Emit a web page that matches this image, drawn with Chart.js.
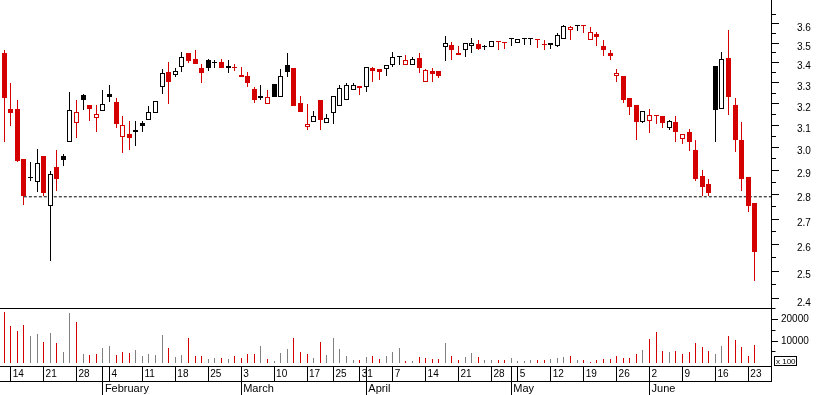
<!DOCTYPE html>
<html><head><meta charset="utf-8">
<script src="https://cdn.jsdelivr.net/npm/chart.js@4/dist/chart.umd.min.js"></script>
<style>
html,body{margin:0;padding:0;background:#fff;}
#wrap{position:relative;width:817px;height:395px;overflow:hidden;background:#fff}
canvas{position:absolute;left:0}
#cp{top:0}
#cv{top:308px}
</style></head><body>
<div id="wrap"><canvas id="cp" width="817" height="308"></canvas><canvas id="cv" width="817" height="87"></canvas></div>
<script>
// ---------- DATA ----------
const YEAR = 2008;
const dates = [
 '01-11',
 '01-14','01-15','01-16','01-17','01-18',
 '01-21','01-22','01-23','01-24','01-25',
 '01-28','01-29','01-30','01-31','02-01',
 '02-04','02-05','02-06','02-07','02-08',
 '02-11','02-12','02-13','02-14','02-15',
 '02-18','02-19','02-20','02-21','02-22',
 '02-25','02-26','02-27','02-28','02-29',
 '03-03','03-04','03-05','03-06','03-07',
 '03-10','03-11','03-12','03-13','03-14',
 '03-17','03-18','03-19','03-20',
 '03-25','03-26','03-27','03-28',
 '03-31','04-01','04-02','04-03','04-04',
 '04-07','04-08','04-09','04-10','04-11',
 '04-14','04-15','04-16','04-17','04-18',
 '04-21','04-22','04-23','04-24','04-25',
 '04-28','04-29','04-30','05-02',
 '05-05','05-06','05-07','05-08','05-09',
 '05-12','05-13','05-14','05-15','05-16',
 '05-19','05-20','05-21','05-22','05-23',
 '05-26','05-27','05-28','05-29','05-30',
 '06-02','06-03','06-04','06-05','06-06',
 '06-09','06-10','06-11','06-12','06-13',
 '06-16','06-17','06-18','06-19','06-20',
 '06-23','06-24'
];
const open = [
 3.451,3.177,3.177,2.951,2.868,2.851,2.964,2.753,2.917,2.964,
 3.025,3.110,3.242,3.194,3.134,3.166,3.247,3.210,3.047,3.061,
 3.072,3.111,3.124,3.156,3.282,3.354,3.338,3.378,3.450,3.419,
 3.374,3.412,3.405,3.404,3.384,3.372,3.338,3.335,3.271,3.227,
 3.199,3.295,3.234,3.389,3.374,3.205,3.094,3.114,3.219,3.110,
 3.156,3.192,3.218,3.265,3.284,3.282,3.374,3.369,3.367,3.387,
 3.428,3.387,3.387,3.422,3.307,3.359,3.359,3.482,3.489,3.439,
 3.467,3.484,3.494,3.479,3.479,3.505,3.503,3.520,3.499,3.520,
 3.520,3.518,3.497,3.499,3.486,3.520,3.567,3.591,3.588,3.517,
 3.549,3.486,3.450,3.336,3.335,3.229,3.196,3.117,3.119,3.145,
 3.144,3.090,3.116,3.038,3.071,2.990,2.878,2.844,3.384,3.175,
 3.424,3.196,3.035,2.874,2.766
];
const high = [
 3.465,3.300,3.219,2.951,2.938,2.995,2.964,2.900,2.990,2.973,
 3.257,3.219,3.248,3.194,3.194,3.266,3.290,3.229,3.144,3.120,
 3.120,3.120,3.191,3.213,3.367,3.404,3.374,3.455,3.450,3.465,
 3.394,3.421,3.412,3.421,3.414,3.394,3.379,3.354,3.279,3.290,
 3.266,3.295,3.369,3.450,3.374,3.238,3.200,3.167,3.219,3.153,
 3.236,3.290,3.300,3.300,3.284,3.378,3.379,3.369,3.387,3.453,
 3.428,3.439,3.428,3.450,3.369,3.374,3.359,3.537,3.506,3.484,
 3.499,3.525,3.516,3.491,3.512,3.505,3.503,3.520,3.520,3.520,
 3.520,3.518,3.516,3.499,3.551,3.593,3.588,3.591,3.588,3.583,
 3.558,3.516,3.464,3.369,3.335,3.229,3.196,3.166,3.177,3.145,
 3.144,3.125,3.144,3.061,3.085,3.035,2.904,2.865,3.384,3.455,
 3.568,3.229,3.116,2.874,2.766
];
const low = [
 3.027,3.098,2.938,2.755,2.854,2.808,2.792,2.538,2.812,2.918,
 3.025,3.045,3.169,3.122,3.072,3.166,3.211,3.086,2.974,2.991,
 3.009,3.068,3.124,3.156,3.247,3.200,3.331,3.356,3.397,3.395,
 3.302,3.361,3.376,3.376,3.351,3.359,3.331,3.282,3.206,3.220,
 3.199,3.234,3.234,3.331,3.192,3.164,3.077,3.114,3.081,3.110,
 3.104,3.192,3.218,3.265,3.242,3.257,3.305,3.316,3.336,3.381,
 3.387,3.387,3.387,3.351,3.307,3.307,3.326,3.409,3.414,3.439,
 3.428,3.450,3.462,3.465,3.479,3.467,3.470,3.487,3.499,3.492,
 3.492,3.477,3.467,3.472,3.479,3.520,3.517,3.563,3.554,3.517,
 3.486,3.432,3.414,3.307,3.206,3.150,3.035,3.113,3.066,3.108,
 3.090,3.077,3.027,3.017,2.983,2.857,2.792,2.792,3.023,3.175,
 3.150,2.979,2.816,2.727,2.464
];
const close = [
 3.230,3.155,2.940,2.792,2.868,2.933,2.804,2.886,2.865,2.944,
 3.171,3.161,3.216,3.178,3.152,3.199,3.234,3.104,3.101,3.045,
 3.081,3.099,3.161,3.213,3.348,3.307,3.359,3.428,3.410,3.395,
 3.351,3.376,3.397,3.376,3.376,3.372,3.331,3.302,3.216,3.236,
 3.232,3.234,3.336,3.356,3.192,3.164,3.105,3.142,3.126,3.133,
 3.236,3.274,3.289,3.290,3.276,3.378,3.361,3.356,3.387,3.428,
 3.428,3.412,3.417,3.376,3.364,3.345,3.336,3.499,3.467,3.450,
 3.499,3.500,3.472,3.479,3.512,3.505,3.503,3.520,3.520,3.520,
 3.520,3.518,3.489,3.490,3.540,3.588,3.583,3.591,3.588,3.558,
 3.533,3.467,3.432,3.349,3.216,3.183,3.117,3.166,3.147,3.145,
 3.113,3.119,3.068,3.061,3.027,2.865,2.829,2.804,3.173,3.417,
 3.234,3.032,2.866,2.751,2.571
];
const volume = [
 23400,17000,14850,17500,12400,13300,9600,13800,9150,4950,
 23100,18900,4000,3570,4000,6830,7770,3570,4950,4490,
 5890,3100,4000,3570,12870,6830,2640,3570,11470,3100,
 3100,1700,2170,2170,1700,3100,2170,4000,4000,7770,
 1700,790,4490,6360,11470,4950,4000,2170,9610,3570,
 11470,6360,3100,1240,1240,2640,3100,1700,3100,4950,
 6830,790,790,2640,2170,1700,1700,9150,3100,1240,
 2640,4490,2640,1240,1240,1240,1240,2170,790,790,
 1240,1240,1240,1700,2170,2640,3100,1240,1240,320,
 1240,1700,1700,3100,2170,2170,4000,5890,11160,14270,
 5420,4950,5420,4000,4950,9150,7290,5420,4000,7770,
 12400,10550,7290,3100,8210
];
const priceMajorTicks = [2.4,2.5,2.6,2.7,2.8,2.9,3.0,3.1,3.2,3.3,3.4,3.5,3.6];
const priceMinorTicks = [2.45,2.55,2.65,2.75,2.85,2.95,3.05,3.15,3.25,3.35,3.45,3.55,3.65];
const volumeMajorTicks = [10000,20000];
const volumeMinorTicks = [5000,15000,25000];
const monthNames = ['January','February','March','April','May','June','July','August','September','October','November','December'];
const supportLevel = 2.79;
const supportStartIndex = 3;
const volumeUnitLabel = 'x 100';

// ---------- SETTINGS ----------
const RED = '#d40000', BLACK = '#000000', GRAY = '#808080';
const FONT = 'Liberation Sans, Arial, sans-serif';
const X_MIN = -0.62, X_MAX = 116.44;
const P_MIN = 2.3679, P_MAX = 3.7297;
const V_MIN = -1535, V_MAX = 25442;
const AXIS_W = 46;

// ---------- DERIVED ----------
const dObj = dates.map(s => { const [m, d] = s.split('-').map(Number); return new Date(YEAR, m - 1, d); });
const isDown = close.map((c, i) => i === 0 ? true : c < close[i - 1]);
const candleColor = isDown.map(d => d ? RED : BLACK);
const hollow = close.map((c, i) => c > open[i]);
const bodies = close.map((c, i) => ({x: i, y: [open[i], c]}));
const wicks = close.map((c, i) => ({x: i, y: [low[i], high[i]]}));
const vols = volume.map((v, i) => ({x: i, y: v}));

const dayTickMap = new Map();
const monthTickMap = new Map();
dObj.forEach((d, i) => {
  if (i === 0) return;
  const p = dObj[i - 1];
  if (d.getDay() <= p.getDay() || (d - p) > 6 * 864e5) dayTickMap.set(i, String(d.getDate()));
  if (d.getMonth() !== p.getMonth()) {
    monthTickMap.set(i, monthNames[d.getMonth()]);
    if (!dayTickMap.has(i)) dayTickMap.set(i, '');
  }
});
const dayTicks = [...dayTickMap.keys()].sort((a, b) => a - b);
const monthTicks = [...monthTickMap.keys()].sort((a, b) => a - b);
const near = (arr, v) => arr.some(t => Math.abs(t - v) < 1e-7);

Chart.defaults.font.family = FONT;
Chart.defaults.color = '#000';

// snap bar elements to whole pixels for crisp 1px lines
const snapPlugin = {
  id: 'snap',
  beforeDatasetsDraw(chart) {
    chart.getSortedVisibleDatasetMetas().forEach(meta => {
      if (meta.type !== 'bar') return;
      meta.data.forEach(el => {
        el.x = Math.floor(el.x) + 0.5;
        const y = Math.round(el.y), b = Math.round(el.base);
        if (y === b) { el.y = y; el.base = y + 1; } else { el.y = y; el.base = b; }
      });
    });
  }
};

// ---------- PRICE CHART ----------
new Chart(document.getElementById('cp'), {
  type: 'bar',
  data: {
    datasets: [
      {type: 'line', data: [{x: supportStartIndex, y: supportLevel}, {x: X_MAX, y: supportLevel}],
       borderColor: '#000', borderWidth: 1, borderDash: [3, 2], pointRadius: 0, fill: false, tension: 0, order: 3},
      {type: 'bar', data: wicks, backgroundColor: candleColor, borderWidth: 0, barThickness: 1,
       grouped: false, inflateAmount: 0, order: 2},
      {type: 'bar', data: bodies, backgroundColor: hollow.map((h, i) => h ? '#ffffff' : candleColor[i]),
       borderColor: candleColor, borderWidth: 1, borderSkipped: false, barThickness: 5,
       grouped: false, minBarLength: 1, inflateAmount: 0, order: 1}
    ]
  },
  options: {
    responsive: false, animation: false, events: [],
    layout: {padding: 0},
    plugins: {legend: {display: false}, tooltip: {enabled: false}},
    scales: {
      x: {type: 'linear', display: false, min: X_MIN, max: X_MAX, offset: false, grid: {offset: false}},
      y: {
        type: 'logarithmic', position: 'right', min: P_MIN, max: P_MAX, bounds: 'data',
        afterBuildTicks: s => { s.ticks = [...priceMajorTicks, ...priceMinorTicks].sort((a, b) => a - b).map(v => ({value: v})); },
        afterFit: s => { s.width = AXIS_W; s.paddingTop = 0; s.paddingBottom = 0; },
        grid: {drawOnChartArea: false, drawTicks: true, tickLength: 8, color: '#000', tickColor: '#000',
               tickBorderDash: c => (c.tick && near(priceMinorTicks, c.tick.value)) ? [4, 60] : []},
        border: {display: true, color: '#000', width: 1},
        ticks: {autoSkip: false, padding: 18, labelOffset: 4, color: '#000', font: {size: 10},
                callback: v => near(priceMajorTicks, v) ? Number(v).toFixed(1) : ''}
      }
    }
  },
  plugins: [snapPlugin]
});

// ---------- VOLUME + DATE AXIS ----------
const framePlugin = {
  id: 'frame',
  afterDraw(chart) {
    const {ctx, chartArea: a} = chart;
    const x2 = chart.scales.x2;
    ctx.save();
    ctx.strokeStyle = '#000'; ctx.lineWidth = 1;
    ctx.beginPath();
    ctx.moveTo(0, 0.5); ctx.lineTo(a.right + 1, 0.5);
    ctx.moveTo(a.right + 0.5, a.bottom); ctx.lineTo(a.right + 0.5, x2.top);
    ctx.stroke();
    ctx.strokeRect(a.right + 3.5, a.bottom - 9.5, 22, 9);
    ctx.fillStyle = '#000';
    ctx.font = '8px ' + FONT;
    ctx.textBaseline = 'middle';
    ctx.textAlign = 'left';
    ctx.fillText(volumeUnitLabel, a.right + 5, a.bottom - 4.5);
    ctx.restore();
  }
};

new Chart(document.getElementById('cv'), {
  type: 'bar',
  data: {
    datasets: [{data: vols, backgroundColor: isDown.map(d => d ? RED : GRAY), borderWidth: 0,
                barThickness: 1, grouped: false, inflateAmount: 0, xAxisID: 'x', yAxisID: 'yv'}]
  },
  options: {
    responsive: false, animation: false, events: [],
    layout: {padding: 0},
    plugins: {legend: {display: false}, tooltip: {enabled: false}},
    scales: {
      x: {
        type: 'linear', position: 'bottom', weight: 0, min: X_MIN, max: X_MAX, offset: false,
        afterBuildTicks: s => { s.ticks = dayTicks.map(v => ({value: v})); },
        afterFit: s => { s.height = 15; s.paddingLeft = 0; s.paddingRight = 0; },
        grid: {offset: false, drawOnChartArea: false, drawTicks: true, tickLength: 15, color: '#000', tickColor: '#000'},
        border: {display: true, color: '#000', width: 1},
        ticks: {autoSkip: false, maxRotation: 0, minRotation: 0, align: 'start', labelOffset: 2, padding: -12.3,
                color: '#000', font: {size: 10}, callback: v => dayTickMap.get(v) ?? ''}
      },
      x2: {
        type: 'linear', position: 'bottom', weight: 1, min: X_MIN, max: X_MAX, offset: false,
        afterBuildTicks: s => { s.ticks = monthTicks.map(v => ({value: v})); },
        afterFit: s => { s.height = 14; s.paddingLeft = 0; s.paddingRight = 0; },
        grid: {offset: false, drawOnChartArea: false, drawTicks: true, tickLength: 14, color: '#000', tickColor: '#000'},
        border: {display: true, color: '#000', width: 1},
        ticks: {autoSkip: false, maxRotation: 0, minRotation: 0, align: 'start', labelOffset: 2, padding: -13,
                color: '#000', font: {size: 11}, callback: v => monthTickMap.get(v) ?? ''}
      },
      yv: {
        type: 'linear', position: 'right', min: V_MIN, max: V_MAX,
        afterBuildTicks: s => { s.ticks = [...volumeMinorTicks, ...volumeMajorTicks].sort((a, b) => a - b).map(v => ({value: v})); },
        afterFit: s => { s.width = AXIS_W; s.paddingTop = 0; s.paddingBottom = 0; },
        grid: {drawOnChartArea: false, drawTicks: true, tickLength: 7, color: '#000', tickColor: '#000',
               tickBorderDash: c => (c.tick && near(volumeMinorTicks, c.tick.value)) ? [3.5, 60] : []},
        border: {display: true, color: '#000', width: 1},
        ticks: {autoSkip: false, padding: 3, color: '#000', font: {size: 10},
                callback: v => near(volumeMajorTicks, v) ? String(v) : ''}
      }
    }
  },
  plugins: [snapPlugin, framePlugin]
});
</script>
</body></html>
